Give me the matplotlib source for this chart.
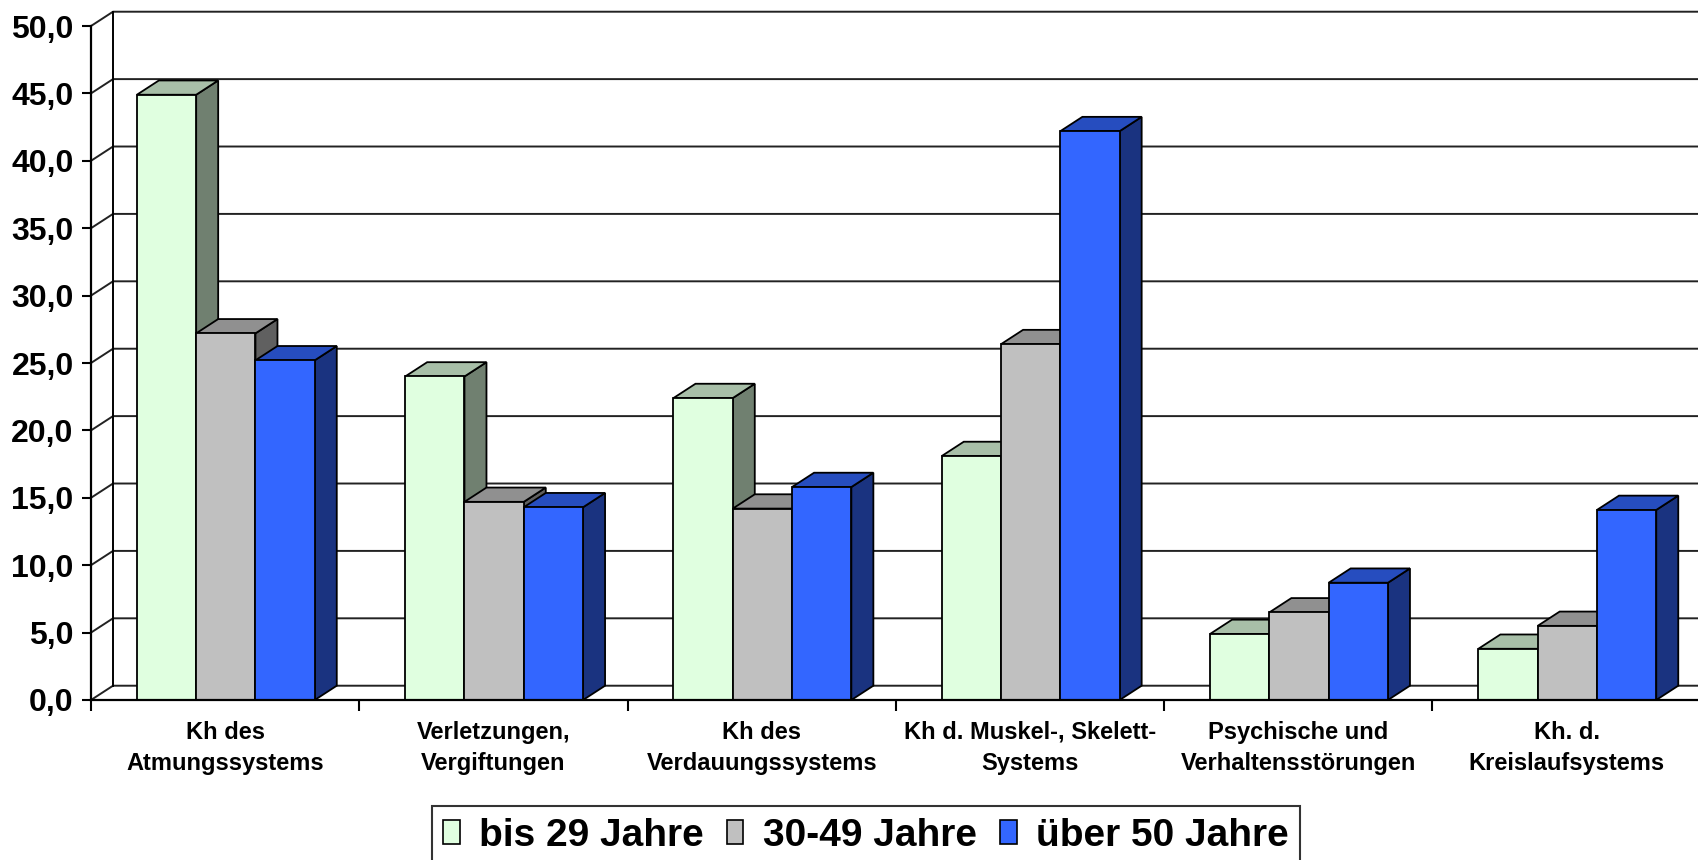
"""Krankheitsgruppen nach Altersklassen, 3D-style clustered columns."""

import matplotlib

matplotlib.use("Agg")
import matplotlib.pyplot as plt
import numpy as np
from matplotlib.colors import to_rgb
from matplotlib.patches import Polygon
from matplotlib.ticker import FuncFormatter

plt.rcParams["font.family"] = ["Liberation Sans", "DejaVu Sans"]
plt.rcParams["font.weight"] = "bold"

categories = [
    "Kh des\nAtmungssystems",
    "Verletzungen,\nVergiftungen",
    "Kh des\nVerdauungssystems",
    "Kh d. Muskel-, Skelett-\nSystems",
    "Psychische und\nVerhaltensstörungen",
    "Kh. d.\nKreislaufsystems",
]
series_names = ["bis 29 Jahre", "30-49 Jahre", "über 50 Jahre"]
bis29 = [44.9, 24.0, 22.4, 18.1, 4.9, 3.8]
j30_49 = [27.2, 14.7, 14.2, 26.4, 6.5, 5.5]
ueber50 = [25.2, 14.3, 15.8, 42.2, 8.7, 14.1]
colors = ["#E0FFE0", "#C0C0C0", "#3366FF"]
y_ticks = np.arange(0, 55, 5)

# pseudo-3D geometry (category units / value units)
DX, DY = 0.082, 1.06
GAP, W = 0.171, 0.221


def shade(c, f):
    return tuple(v * f for v in to_rgb(c))


def main() -> None:
    fig = plt.figure(figsize=(16.99, 8.60), dpi=100)
    fw, fh = 1699, 860
    x0, y0, cat_w, px_unit = 91, 700, 268.3, 13.48
    ymax = 52.0
    ax = fig.add_axes([x0 / fw, (fh - y0) / fh, 6 * cat_w / fw, ymax * px_unit / fh])
    ax.set_xlim(0, 6)
    ax.set_ylim(0, ymax)
    ax.patch.set_visible(False)

    # walls and gridlines
    for v in y_ticks:
        ax.plot([0, DX, 6 + DX], [v, v + DY, v + DY], color="#222222", lw=1.4, zorder=1)
    ax.plot([DX, DX], [DY, 50 + DY], color="black", lw=1.4, zorder=1)

    z = 3
    for j in range(len(categories)):
        for i, vals in enumerate([bis29, j30_49, ueber50]):
            v = vals[j]
            xa = j + GAP + i * W
            xb = xa + W
            c = colors[i]
            side = [(xb, 0), (xb + DX, DY), (xb + DX, v + DY), (xb, v)]
            top = [(xa, v), (xa + DX, v + DY), (xb + DX, v + DY), (xb, v)]
            front = [(xa, 0), (xb, 0), (xb, v), (xa, v)]
            for pts, f in [(side, 0.5), (top, 0.75), (front, 1.0)]:
                ax.add_patch(Polygon(pts, closed=True, facecolor=shade(c, f),
                                     edgecolor="black", lw=1.3, zorder=z,
                                     joinstyle="miter"))
            z += 1

    for s in ["top", "right"]:
        ax.spines[s].set_visible(False)
    ax.spines["left"].set_bounds(0, 50)
    ax.spines["bottom"].set_bounds(0, 6)
    for s in ["left", "bottom"]:
        ax.spines[s].set_linewidth(1.6)
        ax.spines[s].set_zorder(50)

    ax.set_yticks(y_ticks)
    ax.yaxis.set_major_formatter(FuncFormatter(lambda v, _: f"{v:.1f}".replace(".", ",")))
    ax.tick_params(axis="y", length=6.5, width=1.5, pad=6, labelsize=23)

    ax.set_xticks(np.arange(0, 7))
    ax.set_xticklabels([])
    ax.tick_params(axis="x", which="major", length=8, width=1.5, direction="out")
    ax.set_xticks(np.arange(len(categories)) + 0.5, minor=True)
    ax.set_xticklabels(categories, minor=True, fontsize=17, linespacing=1.45)
    ax.tick_params(axis="x", which="minor", length=0, pad=15)

    handles = [plt.Rectangle((0, 0), 1, 1, facecolor=c, edgecolor="black", lw=1.2)
               for c in colors]
    fig.legend(handles, series_names, loc="upper center",
               bbox_to_anchor=(866 / fw, 1 - 806 / fh), ncol=3,
               fontsize=28, frameon=True, fancybox=False, edgecolor="black",
               handlelength=0.42, handleheight=0.6, handletextpad=0.5,
               columnspacing=0.6, borderpad=0.3, borderaxespad=0)
    leg = fig.legends[0]
    leg.get_frame().set_linewidth(1.5)

    fig.savefig("out.png", dpi=100)


if __name__ == "__main__":
    main()
